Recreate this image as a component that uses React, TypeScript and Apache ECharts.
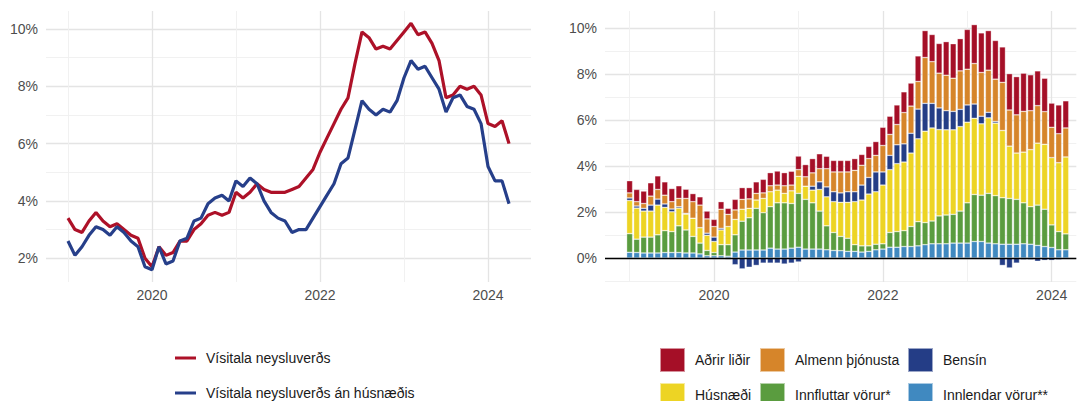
import React, { useEffect, useRef } from 'react';
import * as echarts from 'echarts';

// ---------- DATA ----------
const months = [
  '2019-01','2019-02','2019-03','2019-04','2019-05','2019-06','2019-07','2019-08','2019-09','2019-10','2019-11','2019-12',
  '2020-01','2020-02','2020-03','2020-04','2020-05','2020-06','2020-07','2020-08','2020-09','2020-10','2020-11','2020-12',
  '2021-01','2021-02','2021-03','2021-04','2021-05','2021-06','2021-07','2021-08','2021-09','2021-10','2021-11','2021-12',
  '2022-01','2022-02','2022-03','2022-04','2022-05','2022-06','2022-07','2022-08','2022-09','2022-10','2022-11','2022-12',
  '2023-01','2023-02','2023-03','2023-04','2023-05','2023-06','2023-07','2023-08','2023-09','2023-10','2023-11','2023-12',
  '2024-01','2024-02','2024-03','2024-04',
];

// Vísitala neysluverðs (12-month change, %)
const cpi = [
  3.4, 3.0, 2.9, 3.3, 3.6, 3.3, 3.1, 3.2, 3.0, 2.8, 2.7, 2.0,
  1.7, 2.4, 2.1, 2.2, 2.6, 2.6, 3.0, 3.2, 3.5, 3.6, 3.5, 3.6,
  4.3, 4.1, 4.3, 4.6, 4.4, 4.3, 4.3, 4.3, 4.4, 4.5, 4.8, 5.1,
  5.7, 6.2, 6.7, 7.2, 7.6, 8.8, 9.9, 9.7, 9.3, 9.4, 9.3, 9.6,
  9.9, 10.2, 9.8, 9.9, 9.5, 8.9, 7.6, 7.7, 8.0, 7.9, 8.0, 7.7,
  6.7, 6.6, 6.8, 6.0,
];

// Vísitala neysluverðs án húsnæðis
const cpiExHousing = [
  2.6, 2.1, 2.4, 2.8, 3.1, 3.0, 2.8, 3.1, 2.9, 2.6, 2.4, 1.7,
  1.6, 2.4, 1.8, 1.9, 2.6, 2.7, 3.3, 3.4, 3.9, 4.1, 4.2, 4.0,
  4.7, 4.5, 4.8, 4.6, 4.0, 3.6, 3.4, 3.3, 2.9, 3.0, 3.0, 3.4,
  3.8, 4.2, 4.6, 5.3, 5.5, 6.5, 7.5, 7.2, 7.0, 7.2, 7.1, 7.5,
  8.3, 8.9, 8.6, 8.7, 8.3, 7.9, 7.1, 7.6, 7.7, 7.3, 7.2, 6.7,
  5.2, 4.7, 4.7, 3.9,
];

// Contributions (percentage points), 2019-01 .. 2024-03
const barMonths = months.slice(0, 63);
// empty categories that pad the bar chart's time axis on both sides
const padBefore = ['2018-10', '2018-11', '2018-12'];
const padAfter = ['2024-04'];

const innlendar = [
  0.25, 0.24, 0.22, 0.22, 0.22, 0.24, 0.24, 0.24, 0.22, 0.22, 0.18, 0.10,
  0.10, 0.10, 0.08, 0.26, 0.35, 0.35, 0.35, 0.35, 0.43, 0.39, 0.39, 0.43,
  0.47, 0.39, 0.39, 0.39, 0.36, 0.33, 0.32, 0.29, 0.29, 0.26, 0.29, 0.36,
  0.39, 0.47, 0.47, 0.50, 0.50, 0.53, 0.58, 0.62, 0.62, 0.62, 0.65, 0.65,
  0.65, 0.72, 0.72, 0.65, 0.62, 0.60, 0.60, 0.60, 0.62, 0.60, 0.55, 0.50,
  0.46, 0.36, 0.36,
];
const innfluttar = [
  0.81, 0.58, 0.69, 0.69, 0.79, 0.95, 0.91, 1.16, 1.00, 0.72, 0.47, 0.23,
  0.14, 0.48, 0.50, 0.75, 1.25, 1.40, 1.81, 1.62, 1.80, 2.01, 2.01, 1.94,
  2.34, 2.16, 2.01, 1.65, 1.04, 0.78, 0.62, 0.57, 0.29, 0.27, 0.24, 0.24,
  0.23, 0.64, 0.68, 0.69, 0.87, 1.05, 0.96, 0.99, 1.21, 1.25, 1.25, 1.39,
  1.75, 2.04, 2.01, 2.16, 2.09, 2.02, 1.99, 1.95, 1.78, 1.63, 1.75, 1.62,
  0.98, 0.79, 0.69,
];
const husnaedi = [
  1.44, 1.35, 1.13, 1.13, 1.29, 1.01, 0.86, 0.77, 0.69, 0.79, 0.67, 0.66,
  0.48, 0.64, 0.79, 0.67, 0.52, 0.41, 0.36, 0.62, 0.65, 0.55, 0.41, 0.55,
  0.74, 0.57, 0.55, 0.94, 1.26, 1.34, 1.48, 1.56, 1.87, 1.99, 2.25, 2.28,
  2.55, 2.73, 2.95, 2.98, 3.19, 3.60, 3.97, 4.04, 3.75, 3.70, 3.67, 3.67,
  3.50, 3.31, 3.10, 3.28, 3.15, 2.92, 2.27, 2.01, 2.20, 2.48, 2.69, 2.82,
  2.92, 2.99, 3.34,
];
const bensin = [
  0.11, 0.09, 0.12, 0.26, 0.26, 0.15, 0.12, 0.06, 0.03, 0.0, 0.0, 0.09,
  0.19, 0.07, -0.06, -0.29, -0.47, -0.40, -0.32, -0.22, -0.22, -0.22, -0.26, -0.22,
  -0.17, 0.0, 0.17, 0.33, 0.43, 0.43, 0.41, 0.46, 0.43, 0.65, 0.72, 0.86,
  0.57, 0.62, 0.82, 0.79, 0.86, 1.29, 1.21, 1.07, 0.94, 0.83, 0.80, 0.75,
  0.75, 0.62, 0.33, 0.24, 0.07, -0.32, -0.43, -0.22, -0.07, -0.07, -0.14, -0.10,
  -0.10, -0.07, -0.04,
];
const almenn = [
  0.22, 0.19, 0.21, 0.39, 0.42, 0.38, 0.32, 0.36, 0.65, 0.72, 0.98, 0.62,
  0.46, 0.83, 0.53, 0.41, 0.43, 0.41, 0.29, 0.24, 0.26, 0.22, 0.33, 0.25,
  0.29, 0.41, 0.58, 0.57, 0.79, 0.86, 0.91, 0.86, 0.93, 0.86, 0.82, 0.72,
  1.15, 0.91, 0.88, 1.36, 1.18, 1.20, 1.99, 1.81, 1.51, 1.54, 1.44, 1.67,
  1.55, 1.76, 1.90, 1.83, 1.84, 2.09, 1.57, 1.66, 1.77, 1.69, 1.63, 1.42,
  1.32, 1.26, 1.26,
];
const adrir = [
  0.53, 0.53, 0.54, 0.58, 0.59, 0.58, 0.57, 0.55, 0.40, 0.35, 0.36, 0.34,
  0.31, 0.33, 0.26, 0.46, 0.51, 0.49, 0.50, 0.59, 0.57, 0.61, 0.57, 0.60,
  0.59, 0.53, 0.62, 0.65, 0.54, 0.50, 0.50, 0.50, 0.51, 0.47, 0.53, 0.60,
  0.79, 0.79, 0.85, 0.90, 1.00, 1.11, 1.17, 1.18, 1.29, 1.46, 1.50, 1.40,
  1.73, 1.69, 1.72, 1.72, 1.68, 1.54, 1.58, 1.66, 1.66, 1.56, 1.51, 1.45,
  1.05, 1.25, 1.18,
];

const leftMajorY = [2, 4, 6, 8, 10];
const leftMinorY = [3, 5, 7, 9];
const rightMajorY = [0, 2, 4, 6, 8, 10];
const rightMinorY = [-1, 1, 3, 5, 7, 9];
const majorYears = ['2020', '2022', '2024'];
const minorYears = ['2019', '2021', '2023'];

const lineNames = ['Vísitala neysluverðs', 'Vísitala neysluverðs án húsnæðis'];
const barNames = {
  adrir: 'Aðrir liðir',
  almenn: 'Almenn þjónusta',
  bensin: 'Bensín',
  husnaedi: 'Húsnæði',
  innfluttar: 'Innfluttar vörur*',
  innlendar: 'Innlendar vörur**',
};

// ---------- STYLE ----------
const FONT = '"Liberation Sans", Arial, Helvetica, sans-serif';
const AXIS_TEXT = '#4d4d4d';
const GRID_MAJOR = { color: '#e4e4e4', width: 1.3, type: 'solid' as const };
const GRID_MINOR = { color: '#efefef', width: 0.9, type: 'solid' as const };
const RED_LINE = '#ad1128';
const BLUE_LINE = '#263f8a';
const COLORS = {
  adrir: '#a50f27',
  almenn: '#d6852a',
  bensin: '#243d86',
  husnaedi: '#edd424',
  innfluttar: '#5a9c3f',
  innlendar: '#4089c0',
};

function gridLines(majorY: number[], minorY: number[], xOf: (y: string) => any) {
  const items: any[] = [];
  minorY.forEach((v) =>
    items.push({ yAxis: v, lineStyle: GRID_MINOR, label: { show: false } })
  );
  majorY.forEach((v) =>
    items.push({
      yAxis: v,
      lineStyle: GRID_MAJOR,
      label: {
        show: true,
        position: 'start',
        distance: 8,
        formatter: v + '%',
        color: AXIS_TEXT,
        fontSize: 14,
        fontFamily: FONT,
      },
    })
  );
  minorYears.forEach((y) =>
    items.push({ xAxis: xOf(y), lineStyle: GRID_MINOR, label: { show: false } })
  );
  majorYears.forEach((y) =>
    items.push({
      xAxis: xOf(y),
      lineStyle: GRID_MAJOR,
      label: {
        show: true,
        position: 'start',
        distance: 6,
        formatter: y,
        color: AXIS_TEXT,
        fontSize: 14,
        fontFamily: FONT,
      },
    })
  );
  return items;
}

export default function App() {
  const ref = useRef<HTMLDivElement>(null);

  useEffect(() => {
    if (!ref.current) return;
    const chart = echarts.init(ref.current, undefined, { renderer: 'svg' });

    const xCats = [...padBefore, ...barMonths, ...padAfter];

    const barSeries = (name: string, values: number[], color: string, extra: any = {}) => ({
      name,
      type: 'bar',
      xAxisIndex: 1,
      yAxisIndex: 1,
      stack: 'bidrag',
      barWidth: 6,
      itemStyle: { color, borderColor: 'rgba(255,255,255,0.55)', borderWidth: 0.6 },
      data: values.map((v, i) => [barMonths[i], v]),
      z: 2,
      ...extra,
    });

    const legendText = {
      fontSize: 14,
      color: '#1a1a1a',
      fontFamily: FONT,
      lineHeight: 20,
      padding: [0, 0, 0, 5],
    };

    const lineLegend = (name: string, top: number) => ({
      left: 175,
      top,
      padding: 0,
      icon: 'rect',
      itemWidth: 21,
      itemHeight: 3,
      selectedMode: false,
      textStyle: legendText,
      data: [name],
    });
    const boxLegend = (name: string, left: number, top: number) => ({
      left,
      top,
      padding: 0,
      icon: 'rect',
      itemWidth: 25,
      itemHeight: 24,
      selectedMode: false,
      textStyle: legendText,
      data: [name],
    });

    const option: any = {
      animation: false,
      textStyle: { fontFamily: FONT },
      grid: [
        { left: 46, top: 11, width: 485, height: 271 },
        { left: 605, top: 11, width: 471.3, height: 271 },
      ],
      xAxis: [
        { type: 'value', gridIndex: 0, min: -3.14, max: 66.14, show: false },
        { type: 'category', gridIndex: 1, data: xCats, boundaryGap: true, show: false },
      ],
      yAxis: [
        { type: 'value', gridIndex: 0, min: 1.17, max: 10.63, show: false },
        { type: 'value', gridIndex: 1, min: -1.04, max: 10.73, show: false },
      ],
      legend: [
        lineLegend(lineNames[0], 348),
        lineLegend(lineNames[1], 383),
        boxLegend(barNames.adrir, 659, 347),
        boxLegend(barNames.husnaedi, 659, 382),
        boxLegend(barNames.almenn, 759, 347),
        boxLegend(barNames.innfluttar, 759, 382),
        boxLegend(barNames.bensin, 907, 347),
        boxLegend(barNames.innlendar, 907, 382),
      ],
      series: [
        {
          name: '_gridLeft',
          type: 'line',
          xAxisIndex: 0,
          yAxisIndex: 0,
          data: [],
          silent: true,
          markLine: {
            silent: true,
            symbol: 'none',
            z: 0,
            animation: false,
            data: gridLines(leftMajorY, leftMinorY, (y) => months.indexOf(y + '-01')),
          },
        },
        {
          name: '_gridRight',
          type: 'line',
          xAxisIndex: 1,
          yAxisIndex: 1,
          data: [],
          silent: true,
          markLine: {
            silent: true,
            symbol: 'none',
            z: 0,
            animation: false,
            data: gridLines(rightMajorY, rightMinorY, (y) => y + '-01'),
          },
        },
        {
          name: lineNames[0],
          type: 'line',
          xAxisIndex: 0,
          yAxisIndex: 0,
          showSymbol: false,
          z: 3,
          color: RED_LINE,
          itemStyle: { color: RED_LINE },
          lineStyle: { color: RED_LINE, width: 3.2 },
          data: cpi.map((v, i) => [i, v]),
        },
        {
          name: lineNames[1],
          type: 'line',
          xAxisIndex: 0,
          yAxisIndex: 0,
          showSymbol: false,
          z: 3,
          color: BLUE_LINE,
          itemStyle: { color: BLUE_LINE },
          lineStyle: { color: BLUE_LINE, width: 3.2 },
          data: cpiExHousing.map((v, i) => [i, v]),
        },
        barSeries(barNames.innlendar, innlendar, COLORS.innlendar),
        barSeries(barNames.innfluttar, innfluttar, COLORS.innfluttar),
        barSeries(barNames.husnaedi, husnaedi, COLORS.husnaedi),
        barSeries(barNames.bensin, bensin, COLORS.bensin),
        barSeries(barNames.almenn, almenn, COLORS.almenn),
        barSeries(barNames.adrir, adrir, COLORS.adrir, {
          markLine: {
            silent: true,
            symbol: 'none',
            z: 10,
            animation: false,
            label: { show: false },
            lineStyle: { color: '#000000', width: 1.4, type: 'solid' },
            data: [{ yAxis: 0 }],
          },
        }),
      ],
    };

    chart.setOption(option);
    return () => chart.dispose();
  }, []);

  return (
    <div
      ref={ref}
      style={{ position: 'absolute', left: 0, top: 0, width: 1078, height: 401, background: '#ffffff' }}
    />
  );
}
